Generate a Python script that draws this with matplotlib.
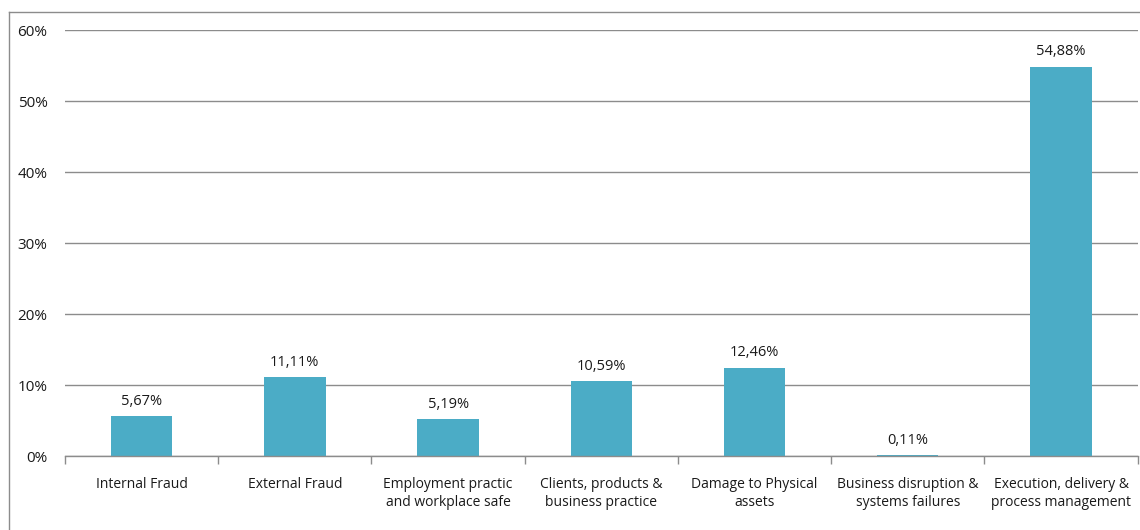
import matplotlib.pyplot as plt
from matplotlib.ticker import FuncFormatter, FixedLocator
from matplotlib.lines import Line2D

categories = [
    "Internal Fraud",
    "External Fraud",
    "Employment practic\nand workplace safe",
    "Clients, products &\nbusiness practice",
    "Damage to Physical\nassets",
    "Business disruption &\nsystems failures",
    "Execution, delivery &\nprocess management",
]
shares = [5.67, 11.11, 5.19, 10.59, 12.46, 0.11, 54.88]
y_ticks = [0, 10, 20, 30, 40, 50, 60]

bar_color = "#4BACC6"
grid_color = "#8C8C8C"

plt.rcParams['font.family'] = ['Open Sans', 'DejaVu Sans']

fig = plt.figure(figsize=(11.4, 5.3), dpi=100)
ax = fig.add_axes([0.057, 0.1396, 0.941, 0.8034])

x = list(range(len(categories)))
ax.bar(x, shares, width=0.4, color=bar_color, zorder=3)

for xi, v in zip(x, shares):
    ax.text(xi, v + 1.0, f"{v:.2f}%".replace(".", ","), ha="center", va="bottom",
            fontsize=10.5, color="#1a1a1a")

ax.set_xlim(-0.5, len(categories) - 0.5)
ax.set_ylim(0, 60)
ax.set_yticks(y_ticks)
ax.yaxis.set_major_formatter(FuncFormatter(lambda v, _: f"{v:.0f}%"))
ax.yaxis.grid(True, color=grid_color, linewidth=1.0, zorder=0)
ax.tick_params(axis="y", length=0, pad=12.5, labelsize=11, labelcolor="#1a1a1a")

# category labels centred, tick marks on category boundaries
ax.set_xticks(x)
ax.set_xticklabels(categories, fontsize=10, color="#1a1a1a", linespacing=1.25)
ax.tick_params(axis="x", which="major", length=0, pad=15)
ax.xaxis.set_minor_locator(FixedLocator([i - 0.5 for i in range(len(categories) + 1)]))
ax.tick_params(axis="x", which="minor", length=6, color=grid_color, width=1.0)

for side in ["top", "right", "left"]:
    ax.spines[side].set_visible(False)
ax.spines["bottom"].set_color(grid_color)
ax.spines["bottom"].set_linewidth(1.0)
ax.spines["bottom"].set_zorder(4)

# chart frame
fig.add_artist(Line2D([0.0079, 0.0079], [0.0, 0.977], transform=fig.transFigure,
                      color="#8C8C8C", linewidth=1.0))
fig.add_artist(Line2D([0.0079, 1.0], [0.977, 0.977], transform=fig.transFigure,
                      color="#8C8C8C", linewidth=1.0))

fig.savefig("out.png", dpi=100)
